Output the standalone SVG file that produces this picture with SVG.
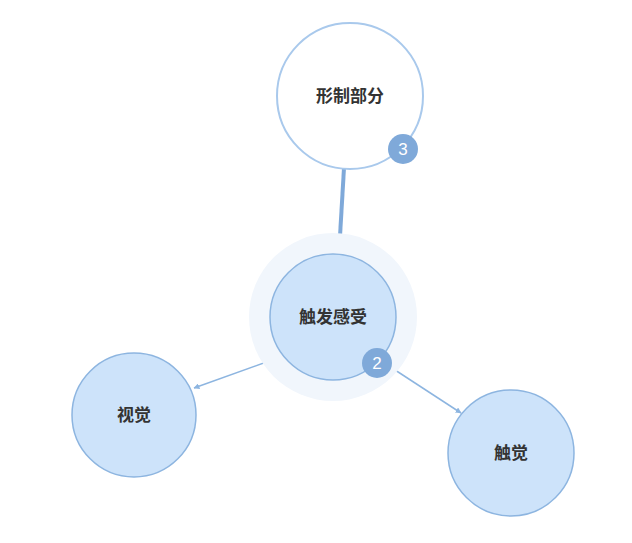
<svg xmlns="http://www.w3.org/2000/svg" width="632" height="543" viewBox="0 0 632 543">
<style>
.n{fill:#cde3fa;stroke:#8db5e0;stroke-width:1.5}
.b{fill:#7fa9d9}
.t{font-family:"Noto Sans CJK SC",sans-serif;font-weight:bold;font-size:17px;fill:#333;text-anchor:middle}
.bt{font-family:"Liberation Sans",sans-serif;font-size:17px;fill:#fff;text-anchor:middle}
.c{stroke:#8db5e0;fill:none}
</style>
<defs>
<marker id="a" viewBox="0 0 10 10" refX="9" refY="5" markerWidth="6" markerHeight="6" orient="auto" markerUnits="userSpaceOnUse"><path d="M0,0L10,5L0,10z" fill="#8db5e0"/></marker>
<marker id="a2" viewBox="0 0 10 10" refX="9" refY="5" markerWidth="14" markerHeight="16" orient="auto" markerUnits="userSpaceOnUse"><path d="M0,0L10,5L0,10z" fill="#7fa9d9"/></marker>
</defs>
<rect width="632" height="543" fill="#fff"/>
<g id="connectors">
<line class="c" x1="344" y1="168" x2="339" y2="253" stroke-width="4" marker-end="url(#a2)" style="stroke:#7fa9d9"/>
<line class="c" x1="272" y1="360" x2="194" y2="388" stroke-width="1.5" marker-end="url(#a)"/>
<line class="c" x1="392" y1="368" x2="461" y2="413" stroke-width="1.5" marker-end="url(#a)"/>
</g>
<g id="n1">
<circle cx="350" cy="96" r="73" fill="#fff" stroke="#a9c9ec" stroke-width="2"/>
<text class="t" x="350" y="102">形制部分</text>
<circle class="b" cx="403" cy="149" r="15"/><text class="bt" x="403" y="155">3</text>
</g>
<g id="n2">
<circle cx="333" cy="317" r="84" fill="#f1f6fc"/>
<circle class="n" cx="333" cy="317" r="63"/>
<text class="t" x="333" y="323">触发感受</text>
<circle class="b" cx="377" cy="363" r="15"/><text class="bt" x="377" y="369">2</text>
</g>
<g id="n3">
<circle class="n" cx="134" cy="415" r="62"/>
<text class="t" x="134" y="421">视觉</text>
</g>
<g id="n4">
<circle class="n" cx="511" cy="453" r="63"/>
<text class="t" x="511" y="459">触觉</text>
</g>
</svg>
